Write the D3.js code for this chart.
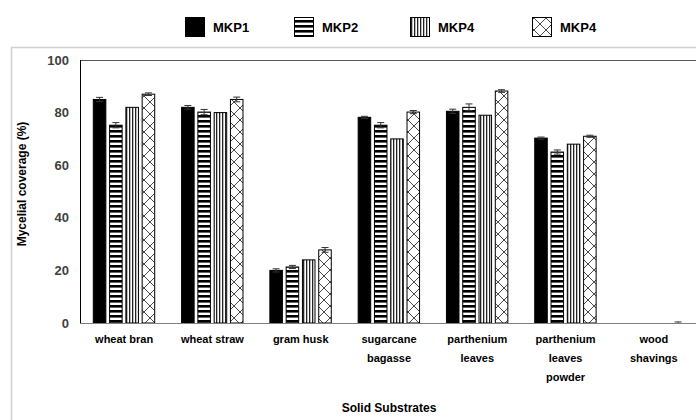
<!DOCTYPE html>
<html><head><meta charset="utf-8">
<script src="https://cdn.jsdelivr.net/npm/d3@7"></script>
<style>
html,body{margin:0;padding:0;background:#fff;}
svg{display:block;font-family:"Liberation Sans",Arial,sans-serif;}
</style></head>
<body><svg id="c" width="696" height="420"></svg>
<script>
const categories = [["wheat bran"],["wheat straw"],["gram husk"],["sugarcane","bagasse"],["parthenium","leaves"],["parthenium","leaves","powder"],["wood","shavings"]];
const series = ["MKP1","MKP2","MKP4","MKP4 "];
const legendLabels = ["MKP1","MKP2","MKP4","MKP4"];
const valuesMKP1 = [85, 82, 20, 78.2, 80.5, 70.3, 0];
const valuesMKP2 = [75.2, 80.2, 21.3, 75.2, 82, 65, 0];
const valuesMKP4a = [82, 80, 24, 70, 79, 68, 0];
const valuesMKP4b = [87, 85, 27.8, 80.2, 88.2, 71, 0];
const errMKP1 = [0.8, 0.7, 0.6, 0.4, 0.8, 0.4, 0];
const errMKP2 = [1.0, 1.0, 0.6, 1.0, 1.3, 0.8, 0];
const errMKP4a = [0, 0, 0, 0, 0, 0, 0];
const errMKP4b = [0.5, 0.9, 0.9, 0.6, 0.5, 0.4, 0.4];
const yTicks = [0, 20, 40, 60, 80, 100];

const values = [valuesMKP1, valuesMKP2, valuesMKP4a, valuesMKP4b];
const errs = [errMKP1, errMKP2, errMKP4a, errMKP4b];

const svg = d3.select("#c");
const defs = svg.append("defs");
const pH = defs.append("pattern").attr("id","pH").attr("patternUnits","userSpaceOnUse").attr("width",6).attr("height",5);
pH.append("rect").attr("width",6).attr("height",5).attr("fill","#fff");
pH.append("rect").attr("y",0).attr("width",6).attr("height",2.6).attr("fill","#000");
const pV = defs.append("pattern").attr("id","pV").attr("patternUnits","userSpaceOnUse").attr("width",3).attr("height",6);
pV.append("rect").attr("width",3).attr("height",6).attr("fill","#fff");
pV.append("rect").attr("x",0).attr("width",1.3).attr("height",6).attr("fill","#222");
const pX = defs.append("pattern").attr("id","pX").attr("patternUnits","userSpaceOnUse").attr("width",12).attr("height",12);
pX.append("rect").attr("width",12).attr("height",12).attr("fill","#fff");
pX.append("path").attr("d","M0,0L12,12M12,0L0,12").attr("stroke","#333").attr("stroke-width",0.9).attr("fill","none");
const fills = ["#000","url(#pH)","url(#pV)","url(#pX)"];

svg.append("rect").attr("x",11.5).attr("y",47.5).attr("width",700).attr("height",400).attr("fill","none").attr("stroke","#d0d0d0").attr("stroke-width",1.5);

const pLeft = 80, pRight = 698, pTop = 60, pBottom = 323;
const y = d3.scaleLinear().domain([0,100]).range([pBottom, pTop]);
const x0 = d3.scaleBand().domain(d3.range(categories.length)).range([pLeft, pRight]);
const x1 = d3.scaleBand().domain(series).range([13.3, 74.7]).paddingInner(0.23);

svg.append("line").attr("x1",pLeft).attr("x2",pRight).attr("y1",pTop+0.5).attr("y2",pTop+0.5).attr("stroke","#595959").attr("stroke-width",1.2);

const g = svg.append("g");
series.forEach((s, si) => {
  const gs = g.append("g");
  gs.selectAll("rect").data(values[si]).join("rect")
    .attr("x",(d,i)=>x0(i)+x1(s))
    .attr("y",d=>y(d))
    .attr("width",x1.bandwidth())
    .attr("height",d=>y(0)-y(d))
    .attr("fill",fills[si])
    .attr("stroke",d=>d>0?"#000":"none")
    .attr("stroke-width",1);
  const eg = gs.append("g").attr("stroke","#333").attr("stroke-width",1);
  values[si].forEach((v,i)=>{
    const e = errs[si][i];
    if (e<=0) return;
    const cx = x0(i)+x1(s)+x1.bandwidth()/2;
    eg.append("line").attr("x1",cx).attr("x2",cx).attr("y1",y(Math.max(0,v-e))).attr("y2",y(v+e));
    eg.append("line").attr("x1",cx-3.5).attr("x2",cx+3.5).attr("y1",y(v+e)).attr("y2",y(v+e));
    if (v-e>0) eg.append("line").attr("x1",cx-3.5).attr("x2",cx+3.5).attr("y1",y(v-e)).attr("y2",y(v-e));
  });
});

svg.append("line").attr("x1",pLeft+0.5).attr("x2",pLeft+0.5).attr("y1",pTop).attr("y2",pBottom).attr("stroke","#000").attr("stroke-width",1);
svg.append("line").attr("x1",pLeft).attr("x2",pRight).attr("y1",pBottom+0.5).attr("y2",pBottom+0.5).attr("stroke","#808080").attr("stroke-width",1.2);

const yAxis = d3.axisLeft(y).tickValues(yTicks).tickSize(0).tickPadding(11);
const ya = svg.append("g").attr("transform",`translate(${pLeft},0)`).call(yAxis);
ya.select(".domain").remove();
ya.selectAll("text").attr("font-family","Liberation Sans, Arial, sans-serif").attr("font-size",13).attr("font-weight","bold").attr("fill","#404040");

const xl = svg.append("g");
categories.forEach((lines,i)=>{
  const cx = x0(i)+x0.bandwidth()/2;
  const t = xl.append("text").attr("x",cx).attr("y",343)
    .attr("text-anchor","middle").attr("font-size",11).attr("font-weight","bold").attr("fill","#000");
  lines.forEach((ln,k)=>t.append("tspan").attr("x",cx).attr("dy",k===0?0:19).text(ln));
});

svg.append("text").attr("x",389).attr("y",412).attr("text-anchor","middle").attr("font-size",12).attr("font-weight","bold").text("Solid Substrates");
svg.append("text").attr("transform","translate(26,184) rotate(-90)").attr("text-anchor","middle").attr("font-size",12).attr("font-weight","bold").text("Mycelial coverage (%)");

const legX = [185, 294, 410, 532];
const lg = svg.append("g");
series.forEach((s,si)=>{
  lg.append("rect").attr("x",legX[si]+0.5).attr("y",17.5).attr("width",19).attr("height",19).attr("fill",fills[si]).attr("stroke","#000").attr("stroke-width",1);
  lg.append("text").attr("x",legX[si]+28).attr("y",32).attr("font-size",13).attr("font-weight","bold").text(legendLabels[si]);
});
</script></body></html>
